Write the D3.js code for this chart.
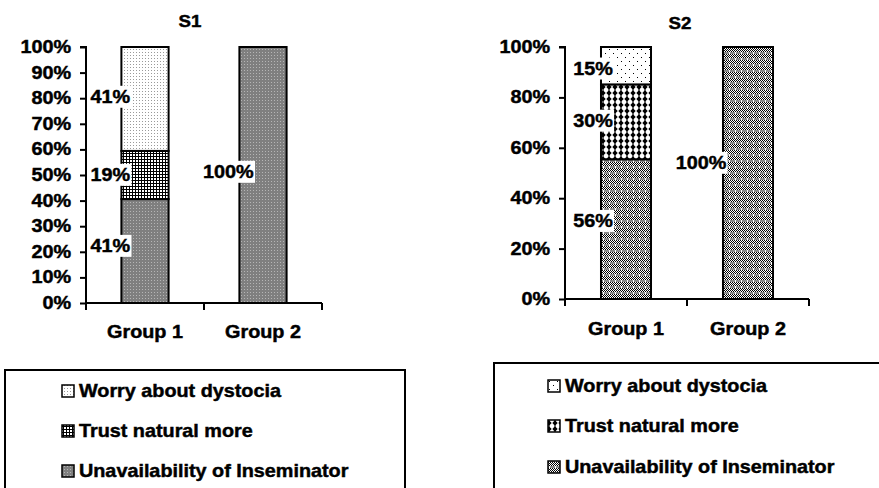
<!DOCTYPE html>
<html><head><meta charset="utf-8">
<script src="https://cdn.jsdelivr.net/npm/d3@7"></script>
<style>
html,body{margin:0;padding:0;background:#fff;}
svg{display:block;}
text{font-family:"Liberation Sans",Arial,sans-serif;font-weight:bold;fill:#000;stroke:#000;stroke-width:0.45px;}
</style></head>
<body>
<script>
// ---- data ----
const categories = ["Group 1", "Group 2"];
const seriesNames = ["Unavailability of Inseminator", "Trust natural more", "Worry about dystocia"];
const s1Unavailability = [41, 100];
const s1Trust = [19, 0];
const s1Worry = [41, 0];
const s2Unavailability = [56, 100];
const s2Trust = [30, 0];
const s2Worry = [15, 0];
const s1Ticks = [0, 10, 20, 30, 40, 50, 60, 70, 80, 90, 100];
const s2Ticks = [0, 20, 40, 60, 80, 100];
const titles = ["S1", "S2"];

const W = 879, H = 488;
const svg = d3.select("body").append("svg").attr("width", W).attr("height", H);
const defs = svg.append("defs");

// ---- patterns ----
function pat(id, w, h, draw) {
  const p = defs.append("pattern").attr("id", id).attr("patternUnits", "userSpaceOnUse")
    .attr("width", w).attr("height", h);
  draw(p);
}
// S1 patterns
pat("p1w", 3, 3, p => { p.append("rect").attr("width",3).attr("height",3).attr("fill","#fff");
  p.append("rect").attr("x",1).attr("y",1).attr("width",1).attr("height",1).attr("fill","#9a9a9a"); });
pat("p1t", 3, 3, p => { p.append("rect").attr("width",3).attr("height",3).attr("fill","#fff");
  p.append("rect").attr("x",0).attr("y",0).attr("width",3).attr("height",1).attr("fill","#000");
  p.append("rect").attr("x",0).attr("y",0).attr("width",1).attr("height",3).attr("fill","#000"); });
pat("p1u", 3, 3, p => { p.append("rect").attr("width",3).attr("height",3).attr("fill","#7f7f7f");
  p.append("rect").attr("x",1).attr("y",1).attr("width",1).attr("height",1).attr("fill","#b5b5b5"); });
// S2 patterns
pat("p2w", 8, 8, p => { p.append("rect").attr("width",8).attr("height",8).attr("fill","#fff");
  p.append("rect").attr("x",1).attr("y",1).attr("width",1).attr("height",1).attr("fill","#000");
  p.append("rect").attr("x",5).attr("y",5).attr("width",1).attr("height",1).attr("fill","#000"); });
pat("p2t", 6, 6, p => { p.append("rect").attr("width",6).attr("height",6).attr("fill","#fff");
  p.append("rect").attr("x",2.5).attr("y",0).attr("width",1).attr("height",6).attr("fill","#000");
  p.append("path").attr("d","M3,0.3 L5.7,3 L3,5.7 L0.3,3 Z").attr("fill","#000"); });
pat("p2u", 6, 6, p => { p.append("rect").attr("width",6).attr("height",6).attr("fill","#fff");
  for (let yy = 0; yy < 4; yy++) for (let xx = 0; xx < 6; xx++) if ((xx + yy) % 2 === 0)
    p.append("rect").attr("x",xx).attr("y",yy).attr("width",1).attr("height",1).attr("fill","#000");
  p.append("rect").attr("x",0).attr("y",4).attr("width",6).attr("height",2).attr("fill","#8a8a8a");
  p.append("rect").attr("x",3).attr("y",4).attr("width",1).attr("height",2).attr("fill","#fff"); });

const SX = 1.1; // horizontal stretch of the original's text
function txt(g, x, y, s, size, anchor) {
  return g.append("text").attr("transform", `translate(${x},${y}) scale(${SX},1)`)
    .attr("text-anchor", anchor || "middle").style("font-size", size + "px").text(s);
}

function drawChart(cfg) {
  const g = svg.append("g");
  const x = d3.scaleBand().domain(categories).range([cfg.x0, cfg.x1]).paddingInner(0).paddingOuter(0);
  const y = d3.scaleLinear().domain([0, 1]).range([cfg.yb, cfg.yt]);
  const rows = categories.map((c, i) => {
    const r = { cat: c };
    seriesNames.forEach((s, k) => r[s] = cfg.series[k][i]);
    return r;
  });
  const stack = d3.stack().keys(seriesNames).offset(d3.stackOffsetExpand);
  const layers = stack(rows);
  const bw = x.bandwidth() * cfg.barFrac;
  const bx = c => x(c) + (x.bandwidth() - bw) / 2;

  layers.forEach((layer, k) => {
    g.selectAll(null).data(layer.filter(d => d.data[layer.key] > 0)).enter().append("rect")
      .attr("x", d => bx(d.data.cat)).attr("width", bw)
      .attr("y", d => y(d[1])).attr("height", d => y(d[0]) - y(d[1]))
      .attr("fill", `url(#${cfg.pats[k]})`).attr("stroke", "#000").attr("stroke-width", 2);
  });

  // y axis
  const ya = d3.axisLeft(y).tickValues(cfg.ticks.map(t => t / 100)).tickSize(6).tickFormat("");
  const yg = g.append("g").attr("transform", `translate(${cfg.x0},0)`).call(ya);
  yg.selectAll("path,line").attr("stroke", "#000").attr("stroke-width", 2);
  yg.select(".domain").attr("d", `M-6,${cfg.yt}H0V${cfg.yb}`);
  cfg.ticks.forEach(t => txt(g, cfg.x0 - 15, y(t / 100) + 6, t + "%", 18, "end"));

  // x axis with ticks at category boundaries
  const xg = g.append("g");
  xg.append("line").attr("x1", cfg.x0).attr("x2", cfg.x1).attr("y1", cfg.yb).attr("y2", cfg.yb)
    .attr("stroke", "#000").attr("stroke-width", 2);
  const bounds = categories.map(c => x(c)).concat([x(categories[categories.length - 1]) + x.bandwidth()]);
  xg.selectAll(null).data(bounds).enter().append("line")
    .attr("x1", d => d).attr("x2", d => d).attr("y1", cfg.yb).attr("y2", cfg.yb + 7)
    .attr("stroke", "#000").attr("stroke-width", 2);
  categories.forEach(c => txt(g, x(c) + x.bandwidth() / 2, cfg.catY, c, 18));

  // title
  txt(g, cfg.titleX, cfg.titleY, cfg.title, 17);

  // data labels
  layers.forEach((layer, k) => {
    layer.forEach((d, i) => {
      const v = d.data[layer.key];
      if (!(v > 0)) return;
      const cx = bx(d.data.cat) + cfg.labelDx[i];
      const cy = (y(d[0]) + y(d[1])) / 2 + 6 + cfg.labelDy[k][i];
      const t = txt(g, cx, cy, v + "%", 18);
      const bb = t.node().getBBox();
      g.insert("rect", function () { return t.node(); })
        .attr("x", cx + (bb.x - 1) * SX).attr("y", cy + bb.y - 1)
        .attr("width", (bb.width + 2) * SX).attr("height", bb.height + 2).attr("fill", "#fff");
    });
  });

  // legend
  const lg = svg.append("g");
  lg.append("rect").attr("x", cfg.legX).attr("y", cfg.legY).attr("width", cfg.legW).attr("height", cfg.legH)
    .attr("fill", "#fff").attr("stroke", "#000").attr("stroke-width", 2);
  seriesNames.slice().reverse().forEach((s, j) => {
    const k = seriesNames.length - 1 - j;
    const by = cfg.legBase[j];
    lg.append("rect").attr("x", cfg.swX).attr("y", by - 12).attr("width", 12).attr("height", 12)
      .attr("fill", `url(#${cfg.pats[k]})`).attr("stroke", "#000").attr("stroke-width", 1.5);
    txt(lg, cfg.swX + 17, by, s, 18, "start");
  });
}

drawChart({
  series: [s1Unavailability, s1Trust, s1Worry], pats: ["p1u", "p1t", "p1w"], ticks: s1Ticks,
  title: titles[0], titleX: 190, titleY: 27,
  x0: 86, x1: 322, yt: 47, yb: 303, barFrac: 0.4, catY: 338,
  labelDx: [-11, -11], labelDy: [[-5, -3], [0, 0], [-2, 0]],
  legX: 5, legY: 370, legW: 400, legH: 130, swX: 62, legBase: [397, 437, 477]
});
drawChart({
  series: [s2Unavailability, s2Trust, s2Worry], pats: ["p2u", "p2t", "p2w"], ticks: s2Ticks,
  title: titles[1], titleX: 680, titleY: 29,
  x0: 565, x1: 809, yt: 47, yb: 299, barFrac: 0.41, catY: 335,
  labelDx: [-8, -22], labelDy: [[-8, -10], [-1, 0], [3, 0]],
  legX: 494, legY: 363, legW: 400, legH: 140, swX: 548, legBase: [392, 432, 473]
});
</script>
</body></html>
